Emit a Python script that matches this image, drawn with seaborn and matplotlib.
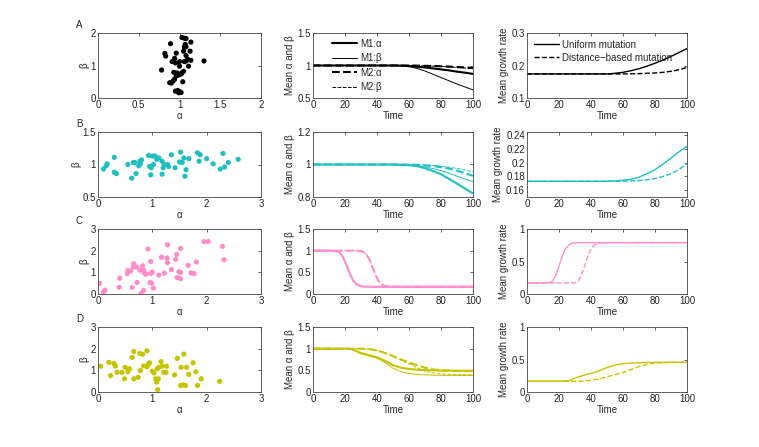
import numpy as np
import pandas as pd
import matplotlib
matplotlib.use("Agg")
import matplotlib.pyplot as plt
import seaborn as sns

# ---------------- data ----------------
colors = ["#000000", "#1fbfc0", "#ff8cc8", "#c4c400"]
letters = ["A", "B", "C", "D"]

A_alpha = [0.78,0.89,0.82,0.83,0.96,1.03,1.06,1.08,1.14,1.07,1.06,1.08,1.05,1.13,1.08,1.10,0.94,0.91,0.95,1.00,1.00,1.06,1.08,1.14,1.11,1.30,0.93,0.97,0.99,0.96,1.02,1.05,1.03,0.94,0.92,0.88,0.90,1.04,0.95,0.98,1.00,1.02,0.99,0.98]
A_beta = [0.86,1.67,1.37,1.29,1.38,1.86,1.84,1.83,1.72,1.65,1.57,1.57,1.44,1.44,1.31,1.19,1.22,1.12,1.08,1.12,0.98,1.12,1.14,1.16,0.98,1.14,0.79,0.77,0.71,0.68,0.74,0.82,0.78,0.58,0.52,0.47,0.46,0.50,0.21,0.23,0.20,0.17,0.16,0.71]

B_alpha = [0.10,0.15,0.17,0.30,0.30,0.34,0.55,0.62,0.65,0.68,0.70,0.75,0.77,0.78,0.80,0.93,0.95,0.97,0.98,1.00,1.02,1.05,1.08,1.12,1.18,1.18,1.20,1.22,1.28,1.30,1.35,1.42,1.50,1.52,1.55,1.58,1.60,1.62,1.67,1.83,1.86,1.88,2.00,2.12,2.25,2.30,2.33,2.40,2.58]
B_beta = [0.93,0.98,1.01,1.11,0.88,0.86,1.00,0.79,1.03,1.03,0.86,0.98,1.05,1.01,1.07,1.14,0.97,0.84,0.95,1.13,1.00,1.13,1.08,1.10,1.05,0.85,0.95,1.00,1.00,0.97,1.15,0.95,1.04,1.19,1.03,1.10,0.82,0.92,1.09,1.18,1.05,1.15,1.09,1.01,0.93,1.17,0.96,1.03,1.08]

C_alpha = [0.03,0.10,0.13,0.40,0.39,0.54,0.55,0.60,0.65,0.66,0.71,0.72,0.63,0.77,0.82,0.84,0.85,0.88,0.92,0.97,0.97,1.00,0.96,0.99,1.02,0.84,0.79,1.12,1.17,1.22,1.27,1.28,1.28,1.35,1.43,1.45,1.46,1.52,1.49,1.52,1.52,1.66,1.71,1.77,1.81,1.95,2.03,2.29,2.32]
C_beta = [0.49,0.08,0.18,0.73,0.31,0.94,1.08,1.06,1.25,1.40,1.25,0.53,0.30,1.10,1.30,1.10,0.99,0.91,2.08,1.50,0.94,1.02,0.53,0.50,0.27,0.17,0.02,0.87,1.70,0.96,1.66,2.27,1.45,1.13,1.60,1.83,0.76,2.10,1.03,0.99,0.70,1.32,0.97,0.94,1.48,2.42,2.42,2.20,1.58]

D_alpha = [0.05,0.20,0.23,0.29,0.32,0.35,0.44,0.49,0.50,0.55,0.58,0.63,0.66,0.66,0.74,0.77,0.78,0.82,0.84,0.90,0.90,0.93,0.95,1.00,1.03,1.06,1.08,1.11,1.09,1.12,1.10,1.16,1.18,1.21,1.25,1.26,1.41,1.46,1.52,1.53,1.57,1.58,1.61,1.63,1.67,1.75,1.80,1.83,1.90,2.24]
D_beta = [1.19,1.37,0.76,1.32,1.20,0.91,0.91,0.61,1.14,0.94,1.07,1.60,1.87,0.61,0.68,1.78,0.99,1.74,1.20,1.90,1.17,1.29,1.35,0.96,0.88,0.61,0.46,0.61,1.07,1.14,0.11,1.40,1.19,0.91,0.91,1.19,0.79,1.55,0.30,1.14,0.33,1.75,0.30,1.14,0.81,1.35,0.93,0.30,0.61,0.49]

scatter_alpha = [A_alpha, B_alpha, C_alpha, D_alpha]
scatter_beta = [A_beta, B_beta, C_beta, D_beta]

# mean alpha/beta panels: (times, values) per series M1:a, M1:b, M2:a, M2:b
A_t = [0, 10, 20, 30, 40, 50, 55, 60, 65, 70, 75, 80, 85, 90, 95, 100]
A_m1a = [1, 1, 1, 1, 1, 1, 0.998, 0.99, 0.98, 0.97, 0.955, 0.94, 0.925, 0.905, 0.89, 0.87]
A_m1b = [1, 1, 1, 1, 1, 1, 0.995, 0.985, 0.955, 0.915, 0.865, 0.815, 0.765, 0.715, 0.67, 0.625]
A_m2a = [1, 1, 1, 1, 1, 1, 1, 1, 0.998, 0.995, 0.992, 0.988, 0.983, 0.977, 0.97, 0.962]
A_m2b = [1, 1, 1, 1, 1, 1, 1, 1, 0.997, 0.994, 0.99, 0.985, 0.978, 0.97, 0.961, 0.952]

B_t = [0, 10, 20, 30, 40, 50, 55, 60, 65, 70, 75, 80, 85, 90, 95, 100]
B_m1a = [1, 1, 1, 1, 1, 1, 0.998, 0.995, 0.99, 0.977, 0.96, 0.94, 0.912, 0.882, 0.852, 0.822]
B_m1b = [1, 1, 1, 1, 1, 1, 0.999, 0.996, 0.992, 0.985, 0.975, 0.962, 0.946, 0.928, 0.911, 0.895]
B_m2a = [1, 1, 1, 1, 1, 1, 1, 0.999, 0.998, 0.995, 0.99, 0.984, 0.975, 0.962, 0.947, 0.93]
B_m2b = [1, 1, 1, 1, 1, 1, 1, 1, 0.999, 0.997, 0.994, 0.99, 0.984, 0.976, 0.966, 0.955]

C_t = [0, 10, 15, 17, 19, 21, 23, 25, 27, 29, 31, 33, 35, 37, 39, 41, 43, 45, 50, 60, 80, 100]
C_m1a = [1, 1, 0.99, 0.95, 0.84, 0.66, 0.47, 0.32, 0.23, 0.19, 0.175, 0.17, 0.168, 0.167, 0.167, 0.167, 0.167, 0.167, 0.167, 0.167, 0.167, 0.167]
C_m1b = C_m1a
C_m2a = [1, 1, 1, 1, 1, 1, 1, 1, 1, 0.995, 0.98, 0.93, 0.82, 0.64, 0.45, 0.3, 0.22, 0.185, 0.17, 0.167, 0.167, 0.167]
C_m2b = C_m2a

D_t = [0, 10, 20, 22, 25, 30, 35, 40, 45, 50, 55, 60, 65, 70, 75, 80, 90, 100]
D_m1a = [1, 1, 1, 1, 0.98, 0.9, 0.85, 0.8, 0.72, 0.62, 0.56, 0.53, 0.515, 0.505, 0.5, 0.495, 0.49, 0.49]
D_m1b = [1, 1, 1, 1, 0.97, 0.88, 0.83, 0.78, 0.68, 0.55, 0.47, 0.425, 0.405, 0.395, 0.39, 0.385, 0.382, 0.38]
D_m2a = [1, 1, 1, 1, 1, 1, 0.99, 0.96, 0.9, 0.83, 0.75, 0.68, 0.62, 0.56, 0.52, 0.5, 0.485, 0.48]
D_m2b = [1, 1, 1, 1, 1, 1, 0.99, 0.96, 0.9, 0.83, 0.74, 0.65, 0.56, 0.48, 0.44, 0.415, 0.402, 0.4]

mean_t = [A_t, B_t, C_t, D_t]
mean_series = [[A_m1a, A_m1b, A_m2a, A_m2b], [B_m1a, B_m1b, B_m2a, B_m2b],
               [C_m1a, C_m1b, C_m2a, C_m2b], [D_m1a, D_m1b, D_m2a, D_m2b]]

# growth rate panels: uniform (solid), distance-based (dashed)
gA_t = [0, 10, 20, 30, 40, 50, 55, 60, 65, 70, 75, 80, 85, 90, 95, 100]
gA_uni = [0.174, 0.174, 0.174, 0.174, 0.174, 0.174, 0.176, 0.179, 0.184, 0.19, 0.198, 0.207, 0.217, 0.228, 0.24, 0.252]
gA_dist = [0.174, 0.174, 0.174, 0.174, 0.174, 0.174, 0.174, 0.174, 0.1745, 0.175, 0.176, 0.177, 0.179, 0.182, 0.187, 0.194]

gB_t = [0, 10, 20, 30, 40, 50, 55, 60, 65, 70, 75, 80, 85, 90, 95, 100]
gB_uni = [0.173, 0.173, 0.173, 0.173, 0.173, 0.173, 0.1735, 0.1745, 0.176, 0.179, 0.184, 0.19, 0.198, 0.207, 0.216, 0.224]
gB_dist = [0.173, 0.173, 0.173, 0.173, 0.173, 0.173, 0.173, 0.173, 0.1735, 0.174, 0.175, 0.177, 0.18, 0.184, 0.19, 0.199]

gC_t = [0, 10, 14, 16, 18, 20, 22, 24, 26, 28, 30, 32, 34, 36, 38, 40, 42, 44, 46, 50, 60, 100]
gC_uni = [0.17, 0.17, 0.175, 0.2, 0.29, 0.43, 0.58, 0.69, 0.75, 0.78, 0.787, 0.79, 0.79, 0.79, 0.79, 0.79, 0.79, 0.79, 0.79, 0.79, 0.79, 0.79]
gC_dist = [0.17, 0.17, 0.17, 0.17, 0.17, 0.17, 0.17, 0.17, 0.17, 0.17, 0.175, 0.2, 0.29, 0.43, 0.58, 0.69, 0.75, 0.775, 0.785, 0.79, 0.79, 0.79]

gD_t = [0, 10, 20, 24, 27, 30, 35, 40, 45, 50, 55, 60, 65, 70, 75, 80, 90, 100]
gD_uni = [0.165, 0.165, 0.165, 0.167, 0.18, 0.215, 0.255, 0.285, 0.325, 0.375, 0.415, 0.435, 0.445, 0.45, 0.455, 0.457, 0.458, 0.458]
gD_dist = [0.165, 0.165, 0.165, 0.165, 0.165, 0.165, 0.168, 0.18, 0.2, 0.235, 0.265, 0.3, 0.345, 0.39, 0.425, 0.445, 0.455, 0.458]

growth_t = [gA_t, gB_t, gC_t, gD_t]
growth_series = [[gA_uni, gA_dist], [gB_uni, gB_dist], [gC_uni, gC_dist], [gD_uni, gD_dist]]

mean_labels = ["M1:α", "M1:β", "M2:α", "M2:β"]
growth_labels = ["Uniform mutation", "Distance−based mutation"]

# axis settings
sc_xlim = [(0, 2), (0, 3), (0, 3), (0, 3)]
sc_xticks = [[0, 0.5, 1, 1.5, 2], [0, 1, 2, 3], [0, 1, 2, 3], [0, 1, 2, 3]]
sc_xtl = [["0", "0.5", "1", "1.5", "2"], ["0", "1", "2", "3"], ["0", "1", "2", "3"], ["0", "1", "2", "3"]]
sc_ylim = [(0, 2), (0.5, 1.5), (0, 3), (0, 3)]
sc_yticks = [[0, 1, 2], [0.5, 1, 1.5], [0, 1, 2, 3], [0, 1, 2, 3]]
sc_ytl = [["0", "1", "2"], ["0.5", "1", "1.5"], ["0", "1", "2", "3"], ["0", "1", "2", "3"]]

mn_ylim = [(0.5, 1.5), (0.8, 1.2), (0, 1.5), (0, 1.5)]
mn_yticks = [[0.5, 1, 1.5], [0.8, 1, 1.2], [0, 0.5, 1, 1.5], [0, 0.5, 1, 1.5]]
mn_ytl = [["0.5", "1", "1.5"], ["0.8", "1", "1.2"], ["0", "0.5", "1", "1.5"], ["0", "0.5", "1", "1.5"]]

gr_ylim = [(0.1, 0.3), (0.15, 0.245), (0, 1), (0, 1)]
gr_yticks = [[0.1, 0.2, 0.3], [0.16, 0.18, 0.2, 0.22, 0.24], [0, 0.5, 1], [0, 0.5, 1]]
gr_ytl = [["0.1", "0.2", "0.3"], ["0.16", "0.18", "0.2", "0.22", "0.24"], ["0", "0.5", "1"], ["0", "0.5", "1"]]

time_ticks = [0, 20, 40, 60, 80, 100]

# ---------------- plotting ----------------
sns.set_theme(style="white")
plt.rcParams["font.family"] = ["Liberation Sans", "DejaVu Sans"]

FS = 7
fig = plt.figure(figsize=(7.59, 4.47), dpi=100)
fig.patch.set_facecolor("white")

W, H = 759.0, 447.0
col_x = [98, 313, 527]
col_w = [163, 160, 160]
row_top = [33, 132, 229, 327]
row_h = 65

def style_ax(ax):
    for sp in ax.spines.values():
        sp.set_color("#444444")
        sp.set_linewidth(0.6)
    ax.tick_params(direction="in", top=True, right=True, length=2.5, width=0.5,
                   labelsize=FS, pad=1.5, colors="#222222")
    ax.set_facecolor("white")

thick, thin = 1.5, 0.7

for r in range(4):
    c = colors[r]
    axes = []
    for k in range(3):
        left = col_x[k] / W
        bottom = 1 - (row_top[r] + row_h) / H
        axes.append(fig.add_axes([left, bottom, col_w[k] / W, row_h / H]))
    ax1, ax2, ax3 = axes

    # scatter
    df = pd.DataFrame({"alpha": scatter_alpha[r], "beta": scatter_beta[r]})
    sns.scatterplot(data=df, x="alpha", y="beta", ax=ax1, color=c, s=14,
                    linewidth=0, edgecolor="none")
    ax1.set_xlim(*sc_xlim[r]); ax1.set_ylim(*sc_ylim[r])
    ax1.set_xticks(sc_xticks[r]); ax1.set_xticklabels(sc_xtl[r])
    ax1.set_yticks(sc_yticks[r]); ax1.set_yticklabels(sc_ytl[r])
    ax1.set_xlabel("α", fontsize=FS, labelpad=1)
    ax1.set_ylabel("β", fontsize=FS, labelpad=1)
    style_ax(ax1)
    ax1.text(-0.115, 1.13, letters[r], transform=ax1.transAxes, fontsize=FS,
             ha="center", va="center")

    # mean alpha & beta
    lws = [thick, thin, thick, thin]
    lss = ["-", "-", "--", "--"]
    for i in range(4):
        d = pd.DataFrame({"Time": mean_t[r], "v": mean_series[r][i]})
        sns.lineplot(data=d, x="Time", y="v", ax=ax2, color=c, linewidth=lws[i],
                     linestyle=lss[i], estimator=None, label=mean_labels[i] if r == 0 else None,
                     legend=False)
    ax2.set_xlim(0, 100); ax2.set_ylim(*mn_ylim[r])
    ax2.set_xticks(time_ticks)
    ax2.set_yticks(mn_yticks[r]); ax2.set_yticklabels(mn_ytl[r])
    ax2.set_xlabel("Time", fontsize=FS, labelpad=1)
    ax2.set_ylabel("Mean α and β", fontsize=FS, labelpad=2)
    style_ax(ax2)
    if r == 0:
        ax2.legend(loc="upper left", frameon=False, fontsize=FS, handlelength=2.6,
                   handletextpad=0.3, labelspacing=0.45, borderaxespad=0.2,
                   bbox_to_anchor=(0.08, 1.0))

    # growth rate
    for i in range(2):
        d = pd.DataFrame({"Time": growth_t[r], "g": growth_series[r][i]})
        sns.lineplot(data=d, x="Time", y="g", ax=ax3, color=c, linewidth=1.0,
                     linestyle=["-", "--"][i], estimator=None,
                     label=growth_labels[i] if r == 0 else None, legend=False)
    ax3.set_xlim(0, 100); ax3.set_ylim(*gr_ylim[r])
    ax3.set_xticks(time_ticks)
    ax3.set_yticks(gr_yticks[r]); ax3.set_yticklabels(gr_ytl[r])
    ax3.set_xlabel("Time", fontsize=FS, labelpad=1)
    ax3.set_ylabel("Mean growth rate", fontsize=FS, labelpad=2)
    style_ax(ax3)
    if r == 0:
        ax3.legend(loc="upper left", frameon=False, fontsize=FS, handlelength=2.6,
                   handletextpad=0.3, labelspacing=0.3, borderaxespad=0.3,
                   bbox_to_anchor=(0.0, 1.0))

fig.savefig("out.png", dpi=100, facecolor="white")
